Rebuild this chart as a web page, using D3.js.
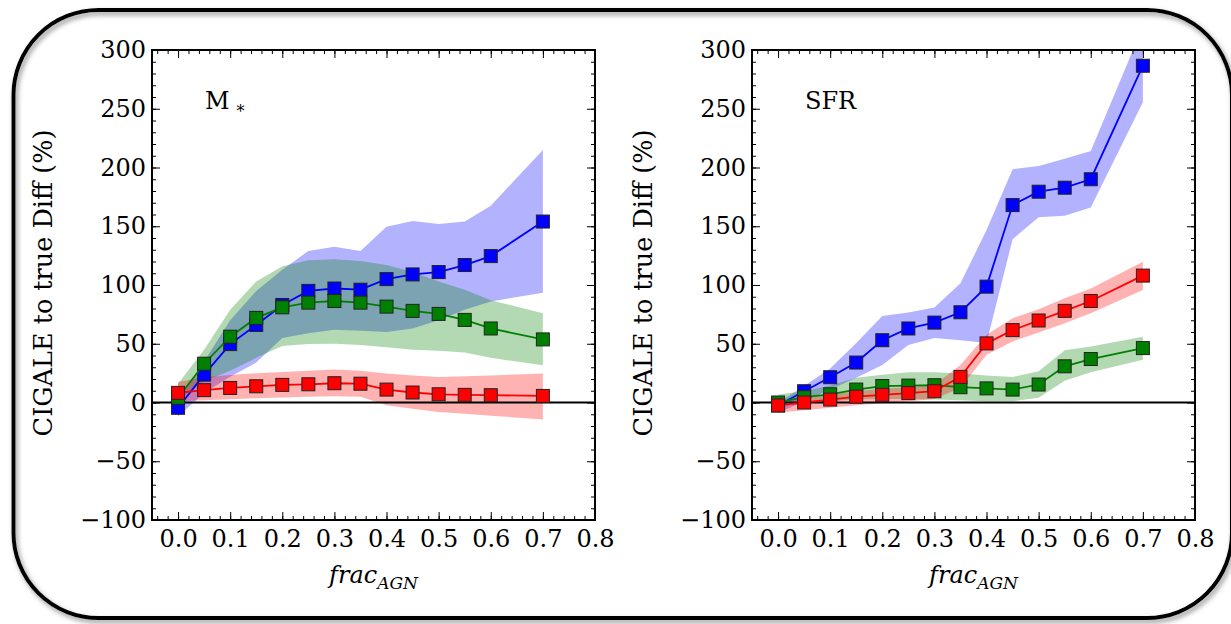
<!DOCTYPE html>
<html>
<head>
<meta charset="utf-8">
<script src="https://cdn.jsdelivr.net/npm/d3@7"></script>
<style>
  body { margin: 0; background: #fff; }
  svg text { font-family: "DejaVu Serif", serif; fill: #000; }
</style>
</head>
<body>
<div id="chart"></div>
<script>
// x positions (frac_AGN)
var fracAGN = [0, 0.05, 0.1, 0.15, 0.2, 0.25, 0.3, 0.35, 0.4, 0.45, 0.5, 0.55, 0.6, 0.7];

// M* panel
var massBlue   = [-4.5, 23.7, 49.7, 66, 83, 95, 97, 96, 105, 109, 111, 117, 124.6, 154];
var massBlueLo = [-12, 8, 22, 34, 55, 59, 62, 61, 60, 63, 70, 79, 86, 93.5];
var massBlueHi = [2, 35, 70, 95, 113, 129, 132.6, 129, 149.6, 154.5, 152, 154, 167.5, 215];
var massGreen   = [4, 33, 56, 72, 81, 85, 86.4, 85, 81.6, 78, 75.4, 70.3, 63, 53.7];
var massGreenLo = [2, 18, 27, 38, 48, 49.7, 50, 49, 47, 45, 44, 42.6, 38, 31.6];
var massGreenHi = [16, 45, 79, 103, 116, 121, 122, 120.5, 117, 111, 103, 96, 87, 76];
var massRed   = [8.2, 10.5, 12.4, 13.8, 15, 15.5, 16.4, 16, 11, 8.5, 7, 6.5, 6.2, 5.6];
var massRedLo = [1, 2, 2.8, 3.7, 4.2, 4.8, 5.4, 5, -2.3, -5.4, -8, -9.6, -11.3, -14.4];
var massRedHi = [17.5, 21.5, 23.4, 25, 26, 27, 28, 27, 24.6, 23, 21.8, 22.3, 23, 24.6];

// SFR panel
var sfrBlue   = [-2.5, 9.6, 21.5, 34, 53, 63, 68, 76.8, 98.6, 168, 179.4, 182.8, 190, 286.6];
var sfrBlueLo = [-9, 1, 11, 21, 32, 49, 55, 53, 50.6, 139, 157.6, 159, 166, 255.5];
var sfrBlueHi = [0, 14, 29, 50.6, 73.7, 76.6, 80.8, 101.4, 146.8, 198.5, 201.3, 207.5, 214, 320];
var sfrGreen   = [0, 4.5, 7, 11, 14, 14.4, 14.7, 13, 12, 11, 15.3, 30.8, 37, 46.3];
var sfrGreenLo = [-3, -1, 1, 2.5, 3, 3, 2.5, 2, 1, 1, 4, 18.6, 25.7, 36.4];
var sfrGreenHi = [6.8, 9.6, 14.4, 21, 23.7, 25.7, 25.7, 24.6, 23, 21.8, 26.6, 44.4, 47.7, 56];
var sfrRed   = [-2.5, 0, 2.5, 5, 6.5, 8, 9.6, 21.8, 50.3, 61.6, 69.8, 78, 86.4, 108];
var sfrRedLo = [-8.8, -6.5, -4.5, -2.3, -0.6, 1, 3, 12.4, 40.7, 52, 59.6, 67.5, 76, 95.8];
var sfrRedHi = [1, 4, 6.5, 9.6, 11.6, 13, 15, 32, 57.6, 71.8, 79.4, 88.7, 97, 119.8];

// ticks
var xTicks = [0, 0.1, 0.2, 0.3, 0.4, 0.5, 0.6, 0.7, 0.8];
var yTicks = [-100, -50, 0, 50, 100, 150, 200, 250, 300];

var svgWidth = 1231, svgHeight = 624;
var plotW = 443, plotH = 470;

var svg = d3.select("#chart").append("svg")
  .attr("width", svgWidth)
  .attr("height", svgHeight);

// drop shadow for the rounded frame
var defs = svg.append("defs");
var filt = defs.append("filter").attr("id", "shadow")
  .attr("x", "-5%").attr("y", "-5%").attr("width", "110%").attr("height", "110%");
filt.append("feDropShadow").attr("dx", 2).attr("dy", 3)
  .attr("stdDeviation", 2.5).attr("flood-color", "#777").attr("flood-opacity", 0.8);

svg.append("rect")
  .attr("x", 13.5).attr("y", 10)
  .attr("width", 1232 - 13.5).attr("height", 618 - 10)
  .attr("rx", 85).attr("ry", 85)
  .attr("fill", "none")
  .attr("stroke", "#000")
  .attr("stroke-width", 4)
  .attr("filter", "url(#shadow)");

var x = d3.scaleLinear().domain([-0.05, 0.8]).range([0, plotW]);
var y = d3.scaleLinear().domain([-100, 300]).range([plotH, 0]);

var fmtY = function (d) { return d < 0 ? "\u2212" + Math.abs(d) : String(d); };

function drawPanel(left, id, label, series) {
  var g = svg.append("g").attr("transform", "translate(" + left + ",50)");

  defs.append("clipPath").attr("id", "clip" + id)
    .append("rect").attr("width", plotW).attr("height", plotH);

  var plot = g.append("g").attr("clip-path", "url(#clip" + id + ")");

  // shaded ranges
  var area = d3.area()
    .x(function (d, i) { return x(fracAGN[i]); })
    .y0(function (d) { return y(d[0]); })
    .y1(function (d) { return y(d[1]); });
  series.forEach(function (s) {
    plot.append("path")
      .datum(s.lo.map(function (v, i) { return [v, s.hi[i]]; }))
      .attr("d", area)
      .attr("fill", s.color)
      .attr("fill-opacity", 0.3);
  });

  // zero line
  plot.append("line")
    .attr("x1", 0).attr("x2", plotW)
    .attr("y1", y(0)).attr("y2", y(0))
    .attr("stroke", "#000").attr("stroke-width", 2);

  // lines + markers
  var line = d3.line()
    .x(function (d, i) { return x(fracAGN[i]); })
    .y(function (d) { return y(d); });
  var ms = 13;
  series.forEach(function (s) {
    plot.append("path").datum(s.val)
      .attr("d", line)
      .attr("fill", "none")
      .attr("stroke", s.color)
      .attr("stroke-width", 1.8);
    plot.selectAll(null).data(s.val).enter().append("rect")
      .attr("x", function (d, i) { return x(fracAGN[i]) - ms / 2; })
      .attr("y", function (d) { return y(d) - ms / 2; })
      .attr("width", ms).attr("height", ms)
      .attr("fill", s.color)
      .attr("stroke", "#222")
      .attr("stroke-width", 1);
  });

  // axes, ticks pointing inward on all sides
  var minorX = d3.range(-2, 41).map(function (i) { return i * 0.02; });
  var minorY = d3.range(-10, 31).map(function (i) { return i * 10; });

  function styleAxis(sel) {
    sel.select(".domain").remove();
    sel.selectAll("line").attr("stroke", "#000").attr("stroke-width", 1);
    sel.selectAll("text").style("font-size", "24px").style("font-family", "DejaVu Serif");
  }

  g.append("g").attr("transform", "translate(0," + plotH + ")")
    .call(d3.axisBottom(x).tickValues(minorX).tickSize(-4).tickFormat(""))
    .call(styleAxis);
  g.append("g")
    .call(d3.axisTop(x).tickValues(minorX).tickSize(-4).tickFormat(""))
    .call(styleAxis);
  g.append("g")
    .call(d3.axisLeft(y).tickValues(minorY).tickSize(-4).tickFormat(""))
    .call(styleAxis);
  g.append("g").attr("transform", "translate(" + plotW + ",0)")
    .call(d3.axisRight(y).tickValues(minorY).tickSize(-4).tickFormat(""))
    .call(styleAxis);

  g.append("g").attr("transform", "translate(0," + plotH + ")")
    .call(d3.axisBottom(x).tickValues(xTicks).tickSize(-8).tickPadding(10)
      .tickFormat(d3.format(".1f")))
    .call(styleAxis);
  g.append("g")
    .call(d3.axisTop(x).tickValues(xTicks).tickSize(-8).tickFormat(""))
    .call(styleAxis);
  g.append("g")
    .call(d3.axisLeft(y).tickValues(yTicks).tickSize(-8).tickPadding(6).tickFormat(fmtY))
    .call(styleAxis);
  g.append("g").attr("transform", "translate(" + plotW + ",0)")
    .call(d3.axisRight(y).tickValues(yTicks).tickSize(-8).tickFormat(""))
    .call(styleAxis);

  // frame
  g.append("rect")
    .attr("width", plotW).attr("height", plotH)
    .attr("fill", "none").attr("stroke", "#000").attr("stroke-width", 2);

  // panel label
  var t = g.append("text").attr("x", 53).attr("y", 59).style("font-size", "24px");
  t.append("tspan").text(label.main);
  if (label.sub) {
    t.append("tspan").attr("dx", 7).attr("dy", 8).style("font-size", "16px").text(label.sub);
  }

  // axis titles
  g.append("text")
    .attr("transform", "translate(-100," + (plotH / 2 - 2) + ") rotate(-90)")
    .attr("text-anchor", "middle")
    .style("font-size", "25.5px")
    .text("CIGALE to true Diff (%)");

  var xl = g.append("text")
    .attr("x", plotW / 2).attr("y", plotH + 63)
    .attr("text-anchor", "middle")
    .style("font-size", "24px").style("font-style", "italic");
  xl.append("tspan").text("frac");
  xl.append("tspan").attr("dy", 6).style("font-size", "17px").text("AGN");
}

drawPanel(152, "m", { main: "M", sub: "*" }, [
  { color: "#0000ff", val: massBlue, lo: massBlueLo, hi: massBlueHi },
  { color: "#008000", val: massGreen, lo: massGreenLo, hi: massGreenHi },
  { color: "#ff0000", val: massRed, lo: massRedLo, hi: massRedHi }
]);
drawPanel(752, "s", { main: "SFR" }, [
  { color: "#0000ff", val: sfrBlue, lo: sfrBlueLo, hi: sfrBlueHi },
  { color: "#008000", val: sfrGreen, lo: sfrGreenLo, hi: sfrGreenHi },
  { color: "#ff0000", val: sfrRed, lo: sfrRedLo, hi: sfrRedHi }
]);
</script>
</body>
</html>
